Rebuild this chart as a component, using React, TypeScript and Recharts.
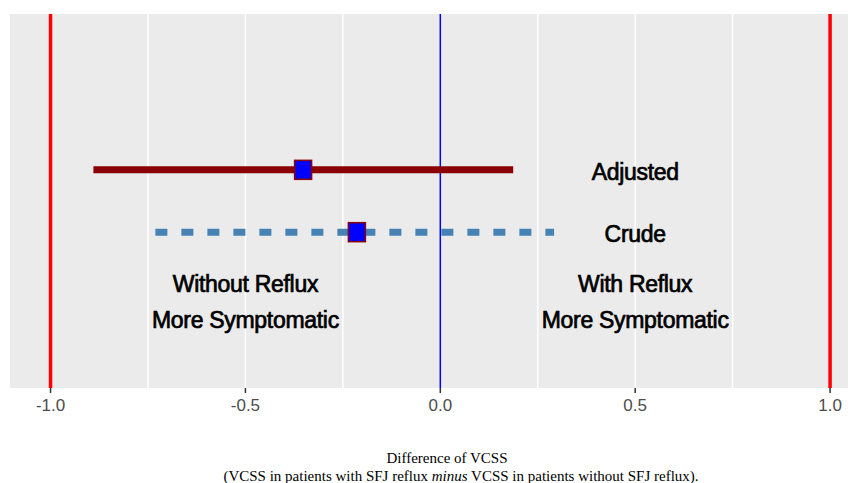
import React from "react";
import {
  ComposedChart,
  XAxis,
  YAxis,
  CartesianGrid,
  ReferenceLine,
  Scatter,
} from "recharts";

// confidence intervals (difference of VCSS)
const adjustedCI = [
  { x: -0.89, y: 3.5 },
  { x: 0.187, y: 3.5 },
];
const crudeCI = [
  { x: -0.731, y: 2.5 },
  { x: 0.292, y: 2.5 },
];
const estimates = [
  { x: -0.352, y: 3.5 },
  { x: -0.214, y: 2.5 },
];
const annotations = [
  { x: 0.5, y: 3.5, text: "Adjusted" },
  { x: 0.5, y: 2.5, text: "Crude" },
  { x: -0.5, y: 1.7, text: "Without Reflux" },
  { x: -0.5, y: 1.12, text: "More Symptomatic" },
  { x: 0.5, y: 1.7, text: "With Reflux" },
  { x: 0.5, y: 1.12, text: "More Symptomatic" },
];
const xTicks = [-1, -0.5, 0, 0.5, 1];
const gridValues = [-0.75, -0.5, -0.25, 0.25, 0.5, 0.75];
const boundValues = [-1, 1];

const Square = (props: any) => {
  const { cx, cy } = props;
  return (
    <rect
      x={cx - 8.5}
      y={cy - 9.5}
      width={17}
      height={19}
      fill="#0000FF"
      stroke="#8B0000"
      strokeWidth={1.5}
    />
  );
};

const Label = (props: any) => {
  const { cx, cy, payload } = props;
  return (
    <text
      x={cx}
      y={cy + 2}
      textAnchor="middle"
      dominantBaseline="central"
      fontFamily="'Liberation Sans', Arial, sans-serif"
      fontSize={23}
      letterSpacing={-0.3}
      fill="#000"
      stroke="#000"
      strokeWidth={0.7}
    >
      {payload.text}
    </text>
  );
};

export default function App() {
  return (
    <div
      style={{
        position: "absolute",
        left: 0,
        top: 0,
        width: 857,
        height: 483,
        background: "#fff",
      }}
    >
      <ComposedChart
        width={857}
        height={483}
        margin={{ top: 14, right: 9, bottom: 65, left: 10 }}
      >
        <CartesianGrid
          fill="#EBEBEB"
          stroke="none"
          vertical={false}
          horizontal={false}
        />
        <XAxis
          type="number"
          dataKey="x"
          domain={[-1.104, 1.046]}
          allowDataOverflow
          ticks={xTicks}
          tickFormatter={(v: number) => v.toFixed(1)}
          axisLine={false}
          tickSize={5}
          tickMargin={6}
          height={30}
          tickLine={{ stroke: "#333", strokeWidth: 1.5 }}
          tick={{
            fill: "#4D4D4D",
            fontSize: 17,
            fontFamily: "'Liberation Sans', Arial, sans-serif",
          }}
        />
        <YAxis type="number" dataKey="y" domain={[0, 6]} hide />
        {gridValues.map((v) => (
          <ReferenceLine key={v} x={v} stroke="#FFFFFF" strokeWidth={1.5} />
        ))}
        {boundValues.map((v) => (
          <ReferenceLine key={v} x={v} stroke="#FF0000" strokeWidth={3.5} />
        ))}
        <ReferenceLine x={0} stroke="#0000FF" strokeWidth={1.5} />
        <Scatter
          data={adjustedCI}
          line={{ stroke: "#8B0000", strokeWidth: 7 }}
          shape={() => null}
          isAnimationActive={false}
        />
        <Scatter
          data={crudeCI}
          line={{ stroke: "#4682B4", strokeWidth: 7, strokeDasharray: "12 14" }}
          shape={() => null}
          isAnimationActive={false}
        />
        <Scatter data={estimates} shape={Square} isAnimationActive={false} />
        <Scatter data={annotations} shape={Label} isAnimationActive={false} />
      </ComposedChart>
      <div
        style={{
          position: "absolute",
          left: 247,
          width: 400,
          top: 449,
          textAlign: "center",
          fontFamily: "'Liberation Serif', 'Times New Roman', serif",
          fontSize: 15,
          lineHeight: "18px",
          color: "#000",
        }}
      >
        Difference of VCSS
      </div>
      <div
        style={{
          position: "absolute",
          left: 161,
          width: 600,
          top: 467,
          textAlign: "center",
          fontFamily: "'Liberation Serif', 'Times New Roman', serif",
          fontSize: 15,
          lineHeight: "18px",
          color: "#000",
          whiteSpace: "nowrap",
        }}
      >
        (VCSS in patients with SFJ reflux <i>minus</i> VCSS in patients without
        SFJ reflux).
      </div>
    </div>
  );
}
